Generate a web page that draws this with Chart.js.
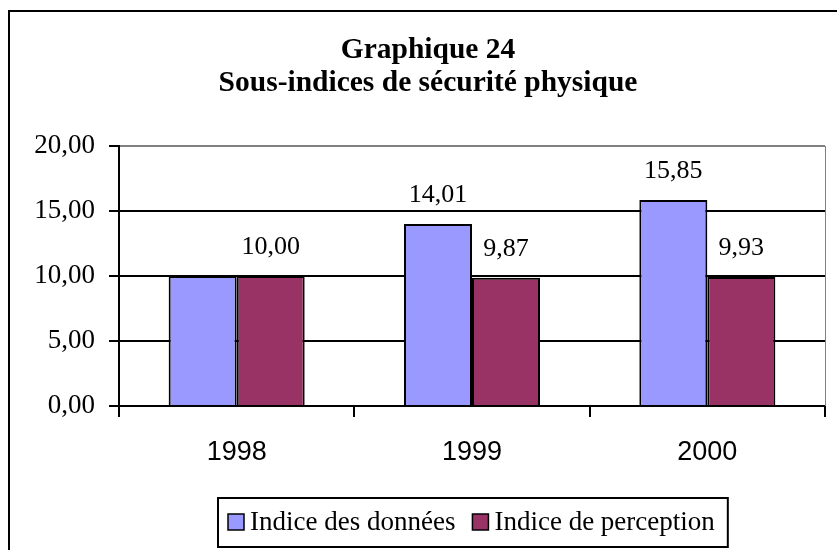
<!DOCTYPE html>
<html lang="fr">
<head>
<meta charset="utf-8">
<title>Graphique 24</title>
<script src="https://cdn.jsdelivr.net/npm/chart.js@4.4.1/dist/chart.umd.min.js"></script>
<style>
    html, body { margin: 0; padding: 0; background: #fff; overflow: hidden; }
    #chart { display: block; }
</style>
</head>
<body>
<canvas id="chart" width="837" height="550"></canvas>
<script>
// --- Data ---
const annees = ['1998', '1999', '2000'];
const indiceDonnees = [10.00, 14.01, 15.85];
const indicePerception = [10.00, 9.87, 9.93];
// the 1998 value of the first series has no label on the original
const showLabelDonnees = [false, true, true];
const showLabelPerception = [true, true, true];
const titreLignes = ['Graphique 24', 'Sous-indices de sécurité physique'];

const SERIF = '"Liberation Serif", "Times New Roman", serif';
const SANS = '"Liberation Sans", Arial, sans-serif';

function fmt(v) {
    return v.toFixed(2).replace('.', ',');
}

// Outer frame + right gray border of the plot area
const framePlugin = {
    id: 'frame',
    beforeDraw(chart) {
        const ctx = chart.ctx;
        ctx.save();
        ctx.fillStyle = '#fff';
        ctx.fillRect(0, 0, chart.width, chart.height);
        ctx.strokeStyle = '#000';
        ctx.lineWidth = 2;
        ctx.strokeRect(9, 11, 1000, 1000);
        ctx.restore();
    },
    afterDatasetsDraw(chart) {
        const { ctx, chartArea } = chart;
        ctx.save();
        ctx.strokeStyle = '#808080';
        ctx.lineWidth = 1;
        ctx.beginPath();
        ctx.moveTo(chartArea.right + 0.5, chartArea.top);
        ctx.lineTo(chartArea.right + 0.5, chartArea.bottom);
        ctx.stroke();
        ctx.restore();
    }
};

// Value labels above the bars
const valueLabels = {
    id: 'valueLabels',
    afterDatasetsDraw(chart) {
        const ctx = chart.ctx;
        const shows = [showLabelDonnees, showLabelPerception];
        ctx.save();
        ctx.font = '26px ' + SERIF;
        ctx.fillStyle = '#000';
        ctx.textAlign = 'center';
        ctx.textBaseline = 'alphabetic';
        chart.data.datasets.forEach((ds, i) => {
            chart.getDatasetMeta(i).data.forEach((bar, j) => {
                if (!shows[i][j]) return;
                ctx.fillText(fmt(ds.data[j]), bar.x, bar.y - 22);
            });
        });
        ctx.restore();
    }
};

// Boxed legend like the Excel one
const boxLegend = {
    id: 'boxLegend',
    afterDraw(chart) {
        const ctx = chart.ctx;
        const left = 218, top = 498, h = 49;
        const mark = 16, gap = 6, itemGap = 17, padL = 10, padR = 13;
        ctx.save();
        ctx.font = '27px ' + SERIF;
        const items = chart.data.datasets.map(ds => ({
            label: ds.label, color: ds.backgroundColor, w: ctx.measureText(ds.label).width
        }));
        let width = padL + padR;
        items.forEach((it, i) => { width += mark + gap + it.w + (i ? itemGap : 0); });
        ctx.strokeStyle = '#000';
        ctx.lineWidth = 2;
        ctx.strokeRect(left, top, width, h);

        let x = left + padL;
        const baseline = 530;
        items.forEach(it => {
            ctx.fillStyle = it.color;
            ctx.fillRect(x, 514, mark, mark);
            ctx.lineWidth = 1.5;
            ctx.strokeRect(x, 514, mark, mark);
            ctx.fillStyle = '#000';
            ctx.textBaseline = 'alphabetic';
            ctx.fillText(it.label, x + mark + gap, baseline);
            x += mark + gap + it.w + itemGap;
        });
        ctx.restore();
    }
};

new Chart(document.getElementById('chart'), {
    type: 'bar',
    data: {
        labels: annees,
        datasets: [
            {
                label: 'Indice des données',
                data: indiceDonnees,
                backgroundColor: '#9999FF',
                borderColor: '#000',
                borderWidth: 2
            },
            {
                label: 'Indice de perception',
                data: indicePerception,
                backgroundColor: '#993366',
                borderColor: '#000',
                borderWidth: 2
            }
        ]
    },
    options: {
        responsive: false,
        animation: false,
        devicePixelRatio: 1,
        categoryPercentage: 0.578,
        barPercentage: 1,
        layout: { padding: { left: 31, right: 12, top: 0, bottom: 84 } },
        plugins: {
            legend: { display: false },
            tooltip: { enabled: false },
            title: {
                display: true,
                text: titreLignes,
                color: '#000',
                font: { family: SERIF, size: 29.5, weight: 'bold', lineHeight: 1.12 },
                padding: { top: 34, bottom: 46 }
            }
        },
        scales: {
            x: {
                afterFit(scale) { scale.height = 60; },
                border: { display: true, color: '#000', width: 2 },
                grid: {
                    display: true,
                    drawOnChartArea: false,
                    drawTicks: true,
                    tickLength: 11,
                    tickColor: '#000',
                    lineWidth: 2,
                    offset: true
                },
                ticks: {
                    color: '#000',
                    padding: 19,
                    font: { family: SANS, size: 27 }
                }
            },
            y: {
                min: 0,
                max: 20,
                afterFit(scale) { scale.width = 88; },
                border: { display: true, color: '#000', width: 2 },
                grid: {
                    color: ctx => (ctx.tick && ctx.tick.value === 20 ? '#808080' : '#000'),
                    lineWidth: 2,
                    tickLength: 10,
                    tickColor: '#000'
                },
                ticks: {
                    stepSize: 5,
                    color: '#000',
                    padding: 14,
                    font: { family: SERIF, size: 27 },
                    callback: v => fmt(v)
                }
            }
        }
    },
    plugins: [framePlugin, valueLabels, boxLegend]
});
</script>
</body>
</html>
